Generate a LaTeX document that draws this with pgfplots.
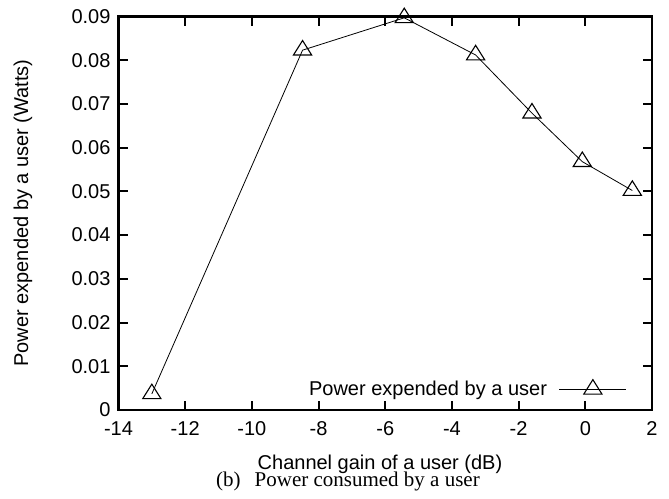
\documentclass[border=0pt]{standalone}
\usepackage{fontspec}
\setmainfont{Liberation Sans}
\newfontfamily\capfont{Liberation Serif}
\usepackage{pgfplots}
\pgfplotsset{compat=1.18}
\begin{document}
\begin{tikzpicture}
\path[use as bounding box] (0pt,0pt) rectangle (669pt,498pt);
\begin{axis}[
  at={(118.5pt,88pt)}, anchor=south west,
  scale only axis, width=533.5pt, height=393.5pt,
  xmin=-14, xmax=2, ymin=0, ymax=0.09,
  scaled y ticks=false, scaled x ticks=false,
  xtick={-14,-12,-10,-8,-6,-4,-2,0,2},
  ytick={0,0.01,0.02,0.03,0.04,0.05,0.06,0.07,0.08,0.09},
  yticklabels={0,0.01,0.02,0.03,0.04,0.05,0.06,0.07,0.08,0.09},
  xtick pos=both, ytick pos=both,
  tick align=inside, major tick length=9pt,
  major tick style={black, line width=2pt},
  axis line style={black, line width=2.2pt},
  /pgf/number format/assume math mode=true,
  ticklabel style={font=\fontsize{20}{20}\selectfont},
  xticklabel style={yshift=-8.5pt},
  yticklabel style={xshift=-4.5pt},
  legend style={draw=none, fill=none, at={(0.9531,0.0526)}, anchor=east,
    inner sep=0pt, column sep=10pt, font=\fontsize{20}{20}\selectfont, legend cell align=right},
  legend plot pos=right,
  legend image code/.code={\draw[mark repeat=2,mark phase=2] plot coordinates {(0pt,0pt)(33.5pt,0pt)(67pt,0pt)};},
]
\addplot[black, line width=0.8pt, mark=triangle, mark size=10.5pt,
  mark options={line width=1.1pt, fill=none, yscale=0.92}]
  coordinates {(-13.0,0.0037) (-8.48,0.0823) (-5.43,0.0897) (-3.29,0.0812) (-1.60,0.0679) (-0.09,0.0568) (1.41,0.0502)};
\addlegendentry{Power expended by a user}
\end{axis}
\node[rotate=90, font=\fontsize{20}{20}\selectfont] at (23pt,285pt) {Power expended by a user (Watts)};
\node[anchor=base, font=\fontsize{20}{20}\selectfont] at (380pt,28.5pt) {Channel gain of a user (dB)};
\node[anchor=base, font=\capfont\fontsize{21}{21}\selectfont] at (348pt,12pt) {(b)\hspace{14pt}Power consumed by a user};
\end{tikzpicture}
\end{document}
